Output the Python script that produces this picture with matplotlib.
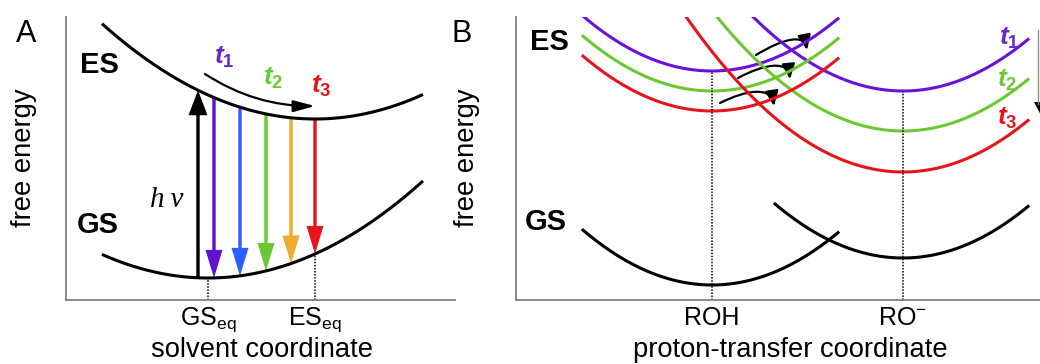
import matplotlib
matplotlib.use('Agg')
import matplotlib.pyplot as plt
import numpy as np
from matplotlib.patches import FancyArrow, FancyArrowPatch, Polygon
from matplotlib.path import Path

plt.rcParams['font.family'] = ['Liberation Sans', 'DejaVu Sans']
plt.rcParams['mathtext.fontset'] = 'custom'
plt.rcParams['mathtext.rm'] = 'Liberation Sans'
plt.rcParams['mathtext.it'] = 'Liberation Sans:italic:bold'
plt.rcParams['mathtext.bf'] = 'Liberation Sans:bold'

# units: pixels along the coordinate, energy measured upward from the axis

# ---- panel A: solvation
a_min_x = [315, 208]          # ES, GS minima
a_min_y = [181, 22]
a_span = [102, 423]
a_curv = 0.0021
a_ticks = [208, 315]
a_ticklabels = [r'GS$_{\mathrm{eq}}$', r'ES$_{\mathrm{eq}}$']
a_excite_x = 198
a_emit_x = [214, 240, 266, 291, 315]
a_emit_colors = ['#5e12d2', '#2d5cff', '#6cc831', '#f0aa2e', '#e8141c']
a_times = [r'$t_{\mathbf{1}}$', r'$t_{\mathbf{2}}$', r'$t_{\mathbf{3}}$']
a_time_x = [224, 273, 321]
a_time_y = [243, 222, 214]
time_colors = ['#6a26c8', '#6cc831', '#e8141c']

# ---- panel B: proton transfer
b_min_x = [712, 903]                 # ROH, RO-
b_es_left_y = [229, 209, 189]        # t1, t2, t3
b_es_right_y = [209, 169, 128]
b_gs_y = [15, 42]
b_span_left = [583, 838]
b_span_right = [640, 1028]
b_span_gs_right = [775, 1028]
b_curv = 0.0033
b_ticks = [712, 903]
b_ticklabels = ['ROH', r'RO$^{-}$']
b_line_colors = ['#6a12d8', '#6cc831', '#e8141c']
b_time_x = [1009, 1007, 1007]
b_time_y = [262, 220, 182]
# little hopping arrows: start, two controls, tip
b_hop_start = [(756, 245), (738, 222), (720, 197)]
b_hop_c1 = [(784, 262), (764, 236), (746, 210)]
b_hop_c2 = [(804, 266), (788, 240), (771, 214)]
b_hop_tip = [(807, 250), (790, 221), (774, 194)]

W, H = 1040, 364
fig = plt.figure(figsize=(W / 100, H / 100), dpi=100)
axA = fig.add_axes([66 / W, 64 / H, 389 / W, 283 / H])
axB = fig.add_axes([516 / W, 64 / H, 524 / W, 283 / H])
axA.set_xlim(66, 455)
axB.set_xlim(516, 1040)
for ax in (axA, axB):
    ax.set_ylim(0, 283)
    ax.spines[['top', 'right']].set_visible(False)
    for s in ('left', 'bottom'):
        ax.spines[s].set_color('#808080')
        ax.spines[s].set_linewidth(1.3)
    ax.set_yticks([])
    ax.tick_params(axis='x', length=0, pad=4, labelsize=18)


def parabola(x0, y0, k, x1, x2):
    x = np.linspace(x1, x2, 300)
    return x, k * (x - x0) ** 2 + y0


def level(x, x0, y0, k):
    return k * (x - x0) ** 2 + y0


# ---------------- panel A
for x0, y0 in zip(a_min_x, a_min_y):
    x, y = parabola(x0, y0, a_curv, *a_span)
    axA.plot(x, y, color='k', lw=2.2, solid_capstyle='butt')

es = lambda x: level(x, a_min_x[0], a_min_y[0], a_curv)
gs = lambda x: level(x, a_min_x[1], a_min_y[1], a_curv)

# dotted guides to the axis
for xt in a_ticks:
    axA.plot([xt, xt], [0, gs(xt)], color='k', lw=1.1, ls=(0, (1, 1)))

# absorption
y0, y1 = gs(a_excite_x), es(a_excite_x)
axA.add_patch(FancyArrow(a_excite_x, y0, 0, y1 - y0, width=3.4, head_width=19,
                         head_length=25, length_includes_head=True, color='k', lw=0))
axA.text(a_excite_x - 31, 100, 'h\u2009ν', family='Liberation Serif', style='italic',
         fontsize=21, ha='center', va='center')

# emission at successive times
for xe, c in zip(a_emit_x, a_emit_colors):
    y0, y1 = es(xe), gs(xe)
    axA.add_patch(FancyArrow(xe, y0, 0, y1 - y0, width=3.4, head_width=17,
                             head_length=28, length_includes_head=True, color=c, lw=0))

axA.add_patch(FancyArrowPatch((205, 226), (315, 194), connectionstyle='arc3,rad=0.15',
                              arrowstyle='-|>,head_length=1.3,head_width=0.35',
                              mutation_scale=10, lw=1.6, color='k', shrinkA=0, shrinkB=0))
for t, x, y, c in zip(a_times, a_time_x, a_time_y, time_colors):
    axA.text(x, y, t, color=c, fontsize=19, ha='center', va='center')

axA.text(99, 235, 'ES', fontsize=21, fontweight='bold', ha='center', va='center', clip_on=False)
axA.text(98, 75, 'GS', fontsize=21, fontweight='bold', ha='center', va='center', clip_on=False)
axA.text(26, 266, 'A', fontsize=22, ha='center', va='center', clip_on=False)

axA.set_xticks(a_ticks, a_ticklabels)
axA.set_xlabel('solvent coordinate', fontsize=19.7)
axA.xaxis.set_label_coords(262, -57, transform=axA.transData)
axA.xaxis.label.set_va('baseline')
axA.set_ylabel('free energy', fontsize=19.7)
axA.yaxis.set_label_coords(24, 142, transform=axA.transData)
axA.yaxis.label.set_va('center')

# ---------------- panel B
for yl, yr, c in zip(b_es_left_y, b_es_right_y, b_line_colors):
    x, y = parabola(b_min_x[0], yl, b_curv, *b_span_left)
    axB.plot(x, y, color=c, lw=2.2)
    x, y = parabola(b_min_x[1], yr, b_curv, *b_span_right)
    axB.plot(x, y, color=c, lw=2.2)

x, y = parabola(b_min_x[0], b_gs_y[0], b_curv, *b_span_left)
axB.plot(x, y, color='k', lw=2.2)
x, y = parabola(b_min_x[1], b_gs_y[1], b_curv, *b_span_gs_right)
axB.plot(x, y, color='k', lw=2.2)

axB.plot([b_min_x[0]] * 2, [0, b_es_left_y[0]], color='k', lw=1.1, ls=(0, (1, 1)))
axB.plot([b_min_x[1]] * 2, [0, b_es_right_y[0]], color='k', lw=1.1, ls=(0, (1, 1)))

for p0, c1, c2, p1 in zip(b_hop_start, b_hop_c1, b_hop_c2, b_hop_tip):
    hop = Path([p0, c1, c2, p1], [Path.MOVETO, Path.CURVE4, Path.CURVE4, Path.CURVE4])
    axB.add_patch(FancyArrowPatch(path=hop, arrowstyle='-|>,head_length=0.9,head_width=0.4',
                                  mutation_scale=10, lw=1.6, color='k'))

for i, (x, y, c) in enumerate(zip(b_time_x, b_time_y, time_colors)):
    axB.text(x, y, a_times[i], color=c, fontsize=19, ha='center', va='center', clip_on=False)

# arrow of the next panel, cut by the edge
axB.plot([1038, 1038], [270, 196], color='#909090', lw=1.0, clip_on=False)
axB.add_patch(Polygon([(1034, 198), (1052, 198), (1043, 181)], closed=True,
                      color='k', lw=0, clip_on=False))

axB.text(549, 258, 'ES', fontsize=21, fontweight='bold', ha='center', va='center', clip_on=False)
axB.text(546, 78, 'GS', fontsize=21, fontweight='bold', ha='center', va='center', clip_on=False)
axB.text(462, 266, 'B', fontsize=22, ha='center', va='center', clip_on=False)

axB.set_xticks(b_ticks, b_ticklabels)
axB.set_xlabel('proton-transfer coordinate', fontsize=19.7)
axB.xaxis.set_label_coords(790, -57, transform=axB.transData)
axB.xaxis.label.set_va('baseline')
axB.set_ylabel('free energy', fontsize=19.7)
axB.yaxis.set_label_coords(467, 142, transform=axB.transData)
axB.yaxis.label.set_va('center')

fig.savefig('out.png', dpi=100)
